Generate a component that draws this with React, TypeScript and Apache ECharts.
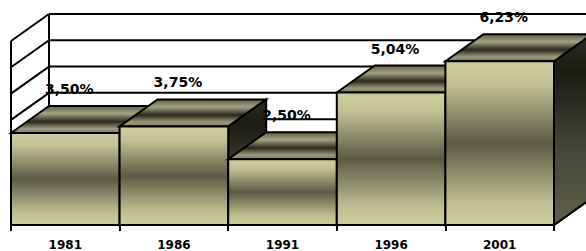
import React, { useEffect, useRef } from "react";
import * as echarts from "echarts";

const years = ["1981", "1986", "1991", "1996", "2001"];
const values = [3.5, 3.75, 2.5, 5.04, 6.23];
const yTicks = [0, 1, 2, 3, 4, 5, 6, 7];

const DX = 38;
const DY = 27;
const EDGE = "#000";
const LW = 2;

const fmt = (v: number) => v.toFixed(2).replace(".", ",") + "%";

export default function App() {
  const ref = useRef<HTMLDivElement>(null);
  useEffect(() => {
    document.body.style.margin = "0";
    const chart = echarts.init(ref.current!, undefined, { renderer: "svg" });
    const G = echarts.graphic;
    const frontGrad = () =>
      new G.LinearGradient(0, 0, 0, 1, [
        { offset: 0, color: "#cfce9e" },
        { offset: 0.14, color: "#c3c295" },
        { offset: 0.5, color: "#5b5b45" },
        { offset: 0.86, color: "#bfbe91" },
        { offset: 1, color: "#cfce9e" },
      ]);
    const topGrad = () =>
      new G.LinearGradient(0, 0, 0, 1, [
        { offset: 0, color: "#5e5e48" },
        { offset: 0.28, color: "#a3a282" },
        { offset: 0.58, color: "#29291e" },
        { offset: 0.84, color: "#9a997a" },
        { offset: 1, color: "#7d7c60" },
      ]);
    const sideGrad = () =>
      new G.LinearGradient(0, 0, 0, 1, [
        { offset: 0, color: "#2c2c21" },
        { offset: 0.2, color: "#1b1b13" },
        { offset: 0.6, color: "#45453a" },
        { offset: 1, color: "#60604a" },
      ]);
    const ymax = yTicks[yTicks.length - 1];
    chart.setOption({
      animation: false,
      backgroundColor: "#fff",
      grid: { left: 11, right: 32, top: 41, bottom: 25 },
      xAxis: {
        type: "category",
        data: years,
        boundaryGap: true,
        axisLine: { show: true, lineStyle: { color: EDGE, width: LW } },
        axisTick: { show: true, length: 6, interval: 0, lineStyle: { color: EDGE, width: LW } },
        axisLabel: {
          margin: 14,
          color: "#000",
          fontFamily: "DejaVu Sans",
          fontWeight: "bold",
          fontSize: 12,
        },
        splitLine: { show: false },
      },
      yAxis: {
        type: "value",
        min: 0,
        max: ymax,
        interval: 1,
        show: false,
        splitLine: { show: false },
      },
      series: [
        {
          type: "custom",
          z: 1,
          data: yTicks.map((t) => [0, t]),
          renderItem: (params: any, api: any) => {
            const cs = params.coordSys;
            const t = api.value(1);
            const y = api.coord([0, t])[1];
            const yb = api.coord([0, 0])[1];
            const x0 = cs.x;
            const x1 = cs.x + cs.width;
            const ls = { stroke: EDGE, lineWidth: LW };
            const children: any[] = [
              { type: "line", shape: { x1: x0, y1: y, x2: x0 + DX, y2: y - DY }, style: ls },
              { type: "line", shape: { x1: x0 + DX, y1: y - DY, x2: x1 + DX + 10, y2: y - DY }, style: ls },
            ];
            if (t === ymax) {
              children.push(
                { type: "line", shape: { x1: x0, y1: y, x2: x0, y2: yb }, style: ls },
                { type: "line", shape: { x1: x0 + DX, y1: y - DY, x2: x0 + DX, y2: yb - DY }, style: ls }
              );
            }
            if (t === 0) {
              children.push({
                type: "line",
                shape: { x1: x1, y1: yb, x2: x1 + DX, y2: yb - DY },
                style: ls,
              });
            }
            return { type: "group", children };
          },
        },
        {
          type: "custom",
          z: 2,
          data: values.map((v, i) => [i, v]),
          renderItem: (params: any, api: any) => {
            const i = api.value(0);
            const v = api.value(1);
            const w = api.size([1, 0])[0];
            const c = api.coord([i, v]);
            const b = api.coord([i, 0]);
            const x0 = c[0] - w / 2;
            const x1 = c[0] + w / 2;
            const yt = c[1];
            const yb = b[1];
            const st = { stroke: EDGE, lineWidth: LW, lineJoin: "miter" };
            return {
              type: "group",
              children: [
                {
                  type: "polygon",
                  shape: { points: [[x1, yt], [x1 + DX, yt - DY], [x1 + DX, yb - DY], [x1, yb]] },
                  style: { ...st, fill: sideGrad() },
                },
                {
                  type: "polygon",
                  shape: { points: [[x0, yt], [x0 + DX, yt - DY], [x1 + DX, yt - DY], [x1, yt]] },
                  style: { ...st, fill: topGrad() },
                },
                {
                  type: "polygon",
                  shape: { points: [[x0, yt], [x1, yt], [x1, yb], [x0, yb]] },
                  style: { ...st, fill: frontGrad() },
                },
              ],
            };
          },
        },
        {
          type: "custom",
          z: 5,
          data: values.map((v, i) => [i, v]),
          renderItem: (params: any, api: any) => {
            const i = api.value(0);
            const v = api.value(1);
            const c = api.coord([i, v]);
            return {
              type: "text",
              style: {
                text: fmt(v),
                x: c[0] + 4,
                y: c[1] - DY - 17,
                align: "center",
                verticalAlign: "middle",
                font: 'bold 14px "DejaVu Sans"',
                fill: "#000",
              },
            };
          },
        },
      ],
    });
    return () => chart.dispose();
  }, []);
  return <div ref={ref} style={{ width: 586, height: 251 }} />;
}
